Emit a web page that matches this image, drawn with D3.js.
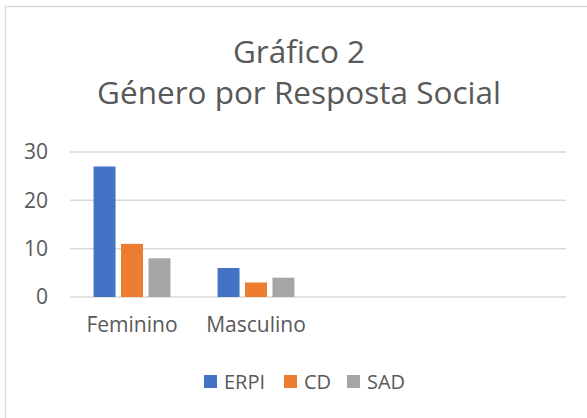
<!DOCTYPE html>
<html>
<head>
<meta charset="utf-8">
<script src="https://cdn.jsdelivr.net/npm/d3@7"></script>
<style>
  html, body { margin: 0; padding: 0; background: #fff; }
  text { font-family: "Open Sans", sans-serif; fill: #595959; }
</style>
</head>
<body>
<div id="chart"></div>
<script>
const width = 587, height = 418;

// Data
const categories = ['Feminino', 'Masculino', ' ', '  '];
const series = ['ERPI', 'CD', 'SAD'];
const erpi = [27, 6, null, null];
const cd = [11, 3, null, null];
const sad = [8, 4, null, null];
const seriesValues = [erpi, cd, sad];
const colors = ['#4472C4', '#ED7D31', '#A5A5A5'];
const yTicks = [0, 10, 20, 30];
const titleLines = ['Gráfico 2', 'Género por Resposta Social'];

const plot = { left: 70, right: 566, top: 152, bottom: 297 };

const svg = d3.select('#chart')
    .append('svg')
    .attr('width', width)
    .attr('height', height);

// chart area border (right/bottom run off the picture)
svg.append('rect')
    .attr('x', 5.5).attr('y', 6.5)
    .attr('width', 590).attr('height', 420)
    .attr('fill', '#fff')
    .attr('stroke', '#d9d9d9')
    .attr('stroke-width', 1.5);

// Title
svg.append('g')
    .selectAll('text')
    .data(titleLines)
    .enter().append('text')
    .attr('x', 299)
    .attr('y', (d, i) => 63 + i * 41)
    .attr('text-anchor', 'middle')
    .style('font-size', '31.5px')
    .text(d => d);

const y = d3.scaleLinear()
    .domain([0, 30])
    .range([plot.bottom, plot.top]);

const x0 = d3.scaleBand()
    .domain(categories)
    .range([plot.left, plot.right]);

const x1 = d3.scaleBand()
    .domain(series)
    .range([x0.bandwidth() * 0.19, x0.bandwidth() * 0.81])
    .paddingInner(0.2);

// gridlines
svg.append('g')
    .selectAll('line')
    .data(yTicks)
    .enter().append('line')
    .attr('x1', plot.left).attr('x2', plot.right)
    .attr('y1', d => y(d)).attr('y2', d => y(d))
    .attr('stroke', '#d9d9d9')
    .attr('stroke-width', 1.5);

// y axis labels
const yAxis = svg.append('g')
    .attr('transform', `translate(${plot.left},0)`)
    .call(d3.axisLeft(y).tickValues(yTicks).tickSize(0).tickPadding(22));
yAxis.select('.domain').remove();
yAxis.selectAll('text')
    .style('font-size', '21px')
    .attr('fill', '#595959')
    .attr('font-family', '"Open Sans", sans-serif');

// bars
const groups = svg.append('g')
    .selectAll('g')
    .data(categories)
    .enter().append('g')
    .attr('transform', d => `translate(${x0(d)},0)`);

groups.selectAll('rect')
    .data((c, i) => series.map((s, j) => ({ s, v: seriesValues[j][i], c: colors[j] })).filter(d => d.v != null))
    .enter().append('rect')
    .attr('x', d => x1(d.s))
    .attr('width', x1.bandwidth())
    .attr('y', d => y(d.v))
    .attr('height', d => y(0) - y(d.v))
    .attr('fill', d => d.c);

// x axis labels
const xAxis = svg.append('g')
    .attr('transform', `translate(0,${plot.bottom})`)
    .call(d3.axisBottom(x0).tickSize(0).tickPadding(20));
xAxis.select('.domain').remove();
xAxis.selectAll('text')
    .style('font-size', '21px')
    .attr('fill', '#595959')
    .attr('font-family', '"Open Sans", sans-serif');

// legend
const legendX = [204, 284, 347];
const legend = svg.append('g')
    .selectAll('g')
    .data(series)
    .enter().append('g')
    .attr('transform', (d, i) => `translate(${legendX[i]},375)`);

legend.append('rect')
    .attr('width', 13).attr('height', 13)
    .attr('fill', (d, i) => colors[i]);

legend.append('text')
    .attr('x', 20)
    .attr('y', 13.5)
    .style('font-size', '20px')
    .text(d => d);
</script>
</body>
</html>
